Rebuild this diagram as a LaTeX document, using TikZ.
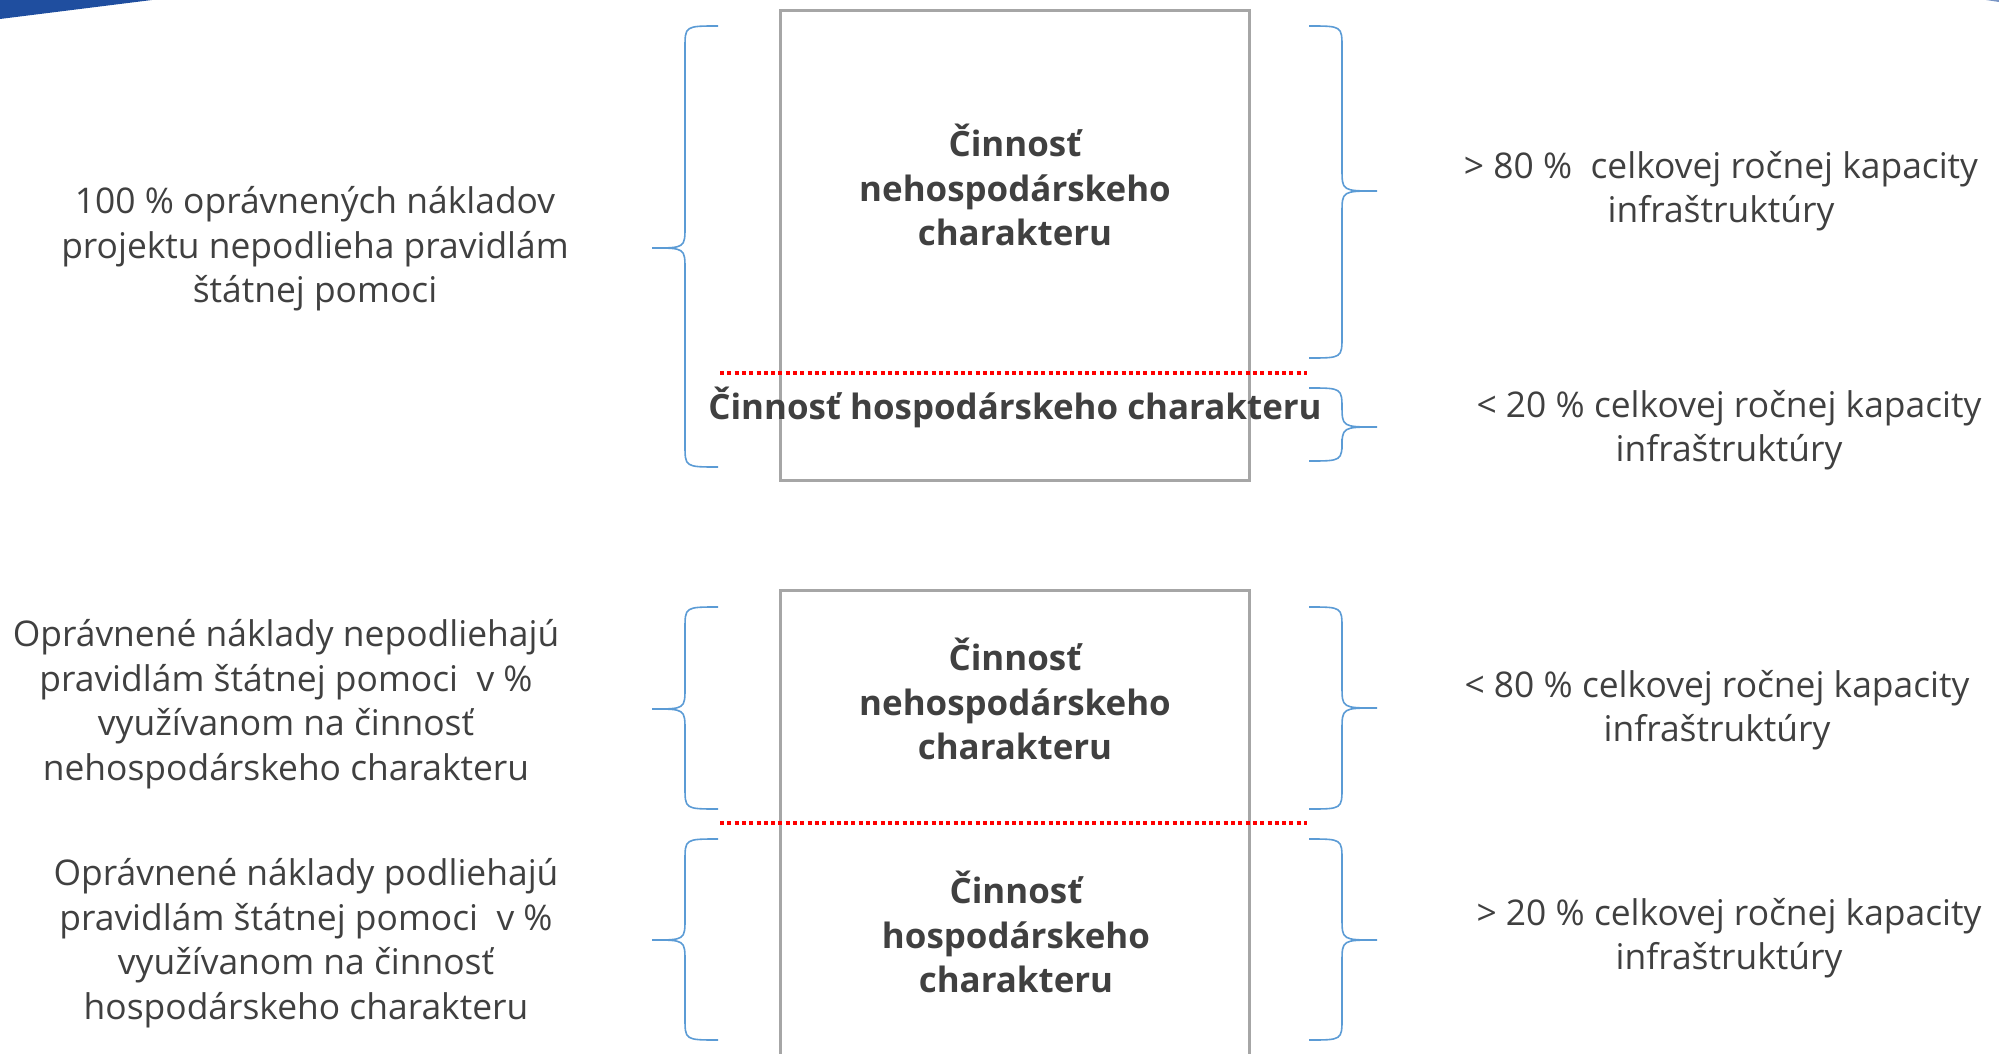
\documentclass[tikz,border=0pt]{standalone}
\usepackage{fontspec}
\setmainfont{Open Sans}
\usetikzlibrary{positioning}

\definecolor{txtgray}{HTML}{404040}
\definecolor{boxgray}{HTML}{A6A6A6}
\definecolor{braceblue}{HTML}{5B9BD5}
\definecolor{cornerblue}{HTML}{1F4E9F}

\tikzset{
	side text/.style={text=txtgray, align=center, font=\fontsize{35.4}{44.6}\selectfont},
	box text/.style={text=txtgray, align=center, font=\fontsize{34.9}{44.6}\selectfont\bfseries},
	box frame/.style={draw=boxgray, line width=3pt, minimum width=469, minimum height=469, inner sep=0pt},
	cut line/.style={draw=red, line width=4pt, dash pattern=on 4pt off 3.3pt},
	brace line/.style={draw=braceblue, line width=1.6pt}
}

\begin{document}
\begin{tikzpicture}[x=1pt, y=-1pt]
\useasboundingbox (0,0) rectangle (1999,1054);

% corner marks
\fill[cornerblue] (0,0) -- (152,0) .. controls (80,9) .. (0,19) -- cycle;
\fill[cornerblue!60] (1986,0) -- (1999,0) -- (1999,2) -- cycle;

% boxes
\node[box frame] (box-a) at (1014.5,245.5) {};
\node[box frame] (box-b) at (1014.5,824.5) {};

\coordinate (cut-a-w) at (720,373);
\coordinate (cut-a-e) at (1307,373);
\coordinate (cut-b-w) at (720,823);
\coordinate (cut-b-e) at (1307,823);
\draw[cut line] (cut-a-w) -- (cut-a-e);
\draw[cut line] (cut-b-w) -- (cut-b-e);

% texts in the boxes
\node[box text] (non-a) at (1015,185) {Činnosť\\nehospodárskeho\\charakteru};
\node[box text] (eco-a) at (1015,407) {Činnosť hospodárskeho charakteru};
\node[box text] (non-b) at (1015,699) {Činnosť\\nehospodárskeho\\charakteru};
\node[box text] (eco-b) at (1016,932) {Činnosť\\hospodárskeho\\charakteru};

%left side
\node[side text] (left-a) at (315,249) {100 \% oprávnených nákladov\\projektu nepodlieha pravidlám\\štátnej pomoci};
\node[side text] (left-b) at (286,704) {Oprávnené náklady nepodliehajú\\pravidlám štátnej pomoci~~v \%\\využívanom na činnosť\\nehospodárskeho charakteru};
\node[side text] (left-c) at (306,943) {Oprávnené náklady podliehajú\\pravidlám štátnej pomoci~~v \%\\využívanom na činnosť\\hospodárskeho charakteru};

%right side
\node[side text] (right-a) at (1721,191) {> 80 \%~~celkovej ročnej kapacity\\infraštruktúry};
\node[side text] (right-b) at (1729,430) {< 20 \% celkovej ročnej kapacity\\infraštruktúry};
\node[side text] (right-c) at (1717,710) {< 80 \% celkovej ročnej kapacity\\infraštruktúry};
\node[side text] (right-d) at (1729,938) {> 20 \% celkovej ročnej kapacity\\infraštruktúry};

%braces
\foreach \yt/\ym/\yb in {26/248/467, 607/709/809, 839/940/1040}
	\draw[brace line] (718,\yt) .. controls (685,\yt) .. (685,\yt+22) -- (685,\ym-22)
		.. controls (685,\ym) .. (652,\ym) .. controls (685,\ym) .. (685,\ym+22)
		-- (685,\yb-22) .. controls (685,\yb) .. (718,\yb);

\foreach \yt/\ym/\yb in {26/191/358, 388/427/461, 607/708/809, 839/940/1040}
	\draw[brace line] (1309,\yt) .. controls (1342,\yt) .. (1342,\yt+22) -- (1342,\ym-22)
		.. controls (1342,\ym) .. (1377,\ym) .. controls (1342,\ym) .. (1342,\ym+22)
		-- (1342,\yb-22) .. controls (1342,\yb) .. (1309,\yb);

\end{tikzpicture}
\end{document}
